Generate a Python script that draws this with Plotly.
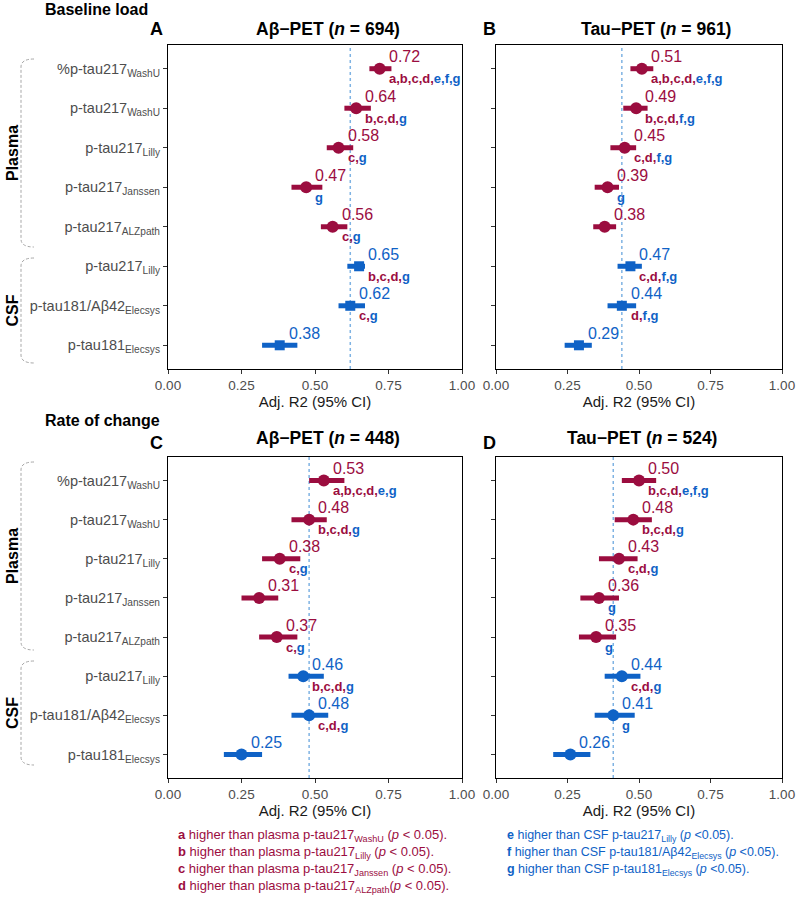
import plotly.graph_objects as go

# rows from top to bottom
biomarkers = ["%p-tau217<sub>WashU</sub>", "p-tau217<sub>WashU</sub>", "p-tau217<sub>Lilly</sub>",
              "p-tau217<sub>Janssen</sub>", "p-tau217<sub>ALZpath</sub>", "p-tau217<sub>Lilly</sub>",
              "p-tau181/Aβ42<sub>Elecsys</sub>", "p-tau181<sub>Elecsys</sub>"]
fluid = ["Plasma", "Plasma", "Plasma", "Plasma", "Plasma", "CSF", "CSF", "CSF"]

# A - baseline, Aβ-PET
est_a = [0.72, 0.64, 0.58, 0.47, 0.56, 0.65, 0.62, 0.38]
lo_a = [0.685, 0.60, 0.54, 0.42, 0.52, 0.61, 0.58, 0.32]
hi_a = [0.76, 0.69, 0.63, 0.525, 0.61, 0.67, 0.67, 0.44]
sig_a = ["a,b,c,d,e,f,g", "b,c,d,g", "c,g", "g", "c,g", "b,c,d,g", "c,g", ""]

# B - baseline, Tau-PET
est_b = [0.51, 0.49, 0.45, 0.39, 0.38, 0.47, 0.44, 0.29]
lo_b = [0.47, 0.445, 0.40, 0.345, 0.34, 0.425, 0.39, 0.24]
hi_b = [0.55, 0.53, 0.49, 0.43, 0.42, 0.51, 0.49, 0.335]
sig_b = ["a,b,c,d,e,f,g", "b,c,d,f,g", "c,d,f,g", "g", "", "c,d,f,g", "d,f,g", ""]

# C - rate of change, Aβ-PET
est_c = [0.53, 0.48, 0.38, 0.31, 0.37, 0.46, 0.48, 0.25]
lo_c = [0.48, 0.42, 0.32, 0.25, 0.31, 0.41, 0.42, 0.19]
hi_c = [0.60, 0.54, 0.45, 0.375, 0.44, 0.53, 0.545, 0.32]
sig_c = ["a,b,c,d,e,g", "b,c,d,g", "c,g", "", "c,g", "b,c,d,g", "c,d,g", ""]

# D - rate of change, Tau-PET
est_d = [0.50, 0.48, 0.43, 0.36, 0.35, 0.44, 0.41, 0.26]
lo_d = [0.44, 0.415, 0.36, 0.295, 0.29, 0.38, 0.345, 0.20]
hi_d = [0.56, 0.545, 0.495, 0.43, 0.42, 0.505, 0.485, 0.33]
sig_d = ["b,c,d,e,f,g", "b,c,d,g", "c,d,g", "g", "g", "c,d,g", "g", ""]

xticks = [0, 0.25, 0.5, 0.75, 1.0]
xticklabels = ["0.00", "0.25", "0.50", "0.75", "1.00"]

notes_plasma = ["higher than plasma p-tau217<sub>WashU</sub> (<i>p</i> &lt; 0.05).",
                "higher than plasma p-tau217<sub>Lilly</sub> (<i>p</i> &lt; 0.05).",
                "higher than plasma p-tau217<sub>Janssen</sub> (<i>p</i> &lt; 0.05).",
                "higher than plasma p-tau217<sub>ALZpath</sub>(<i>p</i> &lt; 0.05)."]
notes_csf = ["higher than CSF p-tau217<sub>Lilly</sub> (<i>p</i> &lt;0.05).",
             "higher than CSF p-tau181/Aβ42<sub>Elecsys</sub> (<i>p</i> &lt;0.05).",
             "higher than CSF p-tau181<sub>Elecsys</sub> (<i>p</i> &lt;0.05)."]

RED = "#9B0D3F"
BLUE = "#0F62C6"
W, H = 797, 900
FONT = "Liberation Sans, Arial, sans-serif"


def px(x):
    return x / W


def py(y):
    return 1 - y / H


rows = list(range(1, 9))
panels = [
    dict(n="", est=est_a, lo=lo_a, hi=hi_a, sig=sig_a, sq=True, dx=[168, 462], dy=[45, 369]),
    dict(n="2", est=est_b, lo=lo_b, hi=hi_b, sig=sig_b, sq=True, dx=[496, 782], dy=[45, 369]),
    dict(n="3", est=est_c, lo=lo_c, hi=hi_c, sig=sig_c, sq=False, dx=[168, 462], dy=[457, 778]),
    dict(n="4", est=est_d, lo=lo_d, hi=hi_d, sig=sig_d, sq=False, dx=[496, 782], dy=[457, 778]),
]

fig = go.Figure()
anns = []
shapes = []

for k, p in enumerate(panels):
    xr, yr = "x" + p["n"], "y" + p["n"]
    for grp, col in [("Plasma", RED), ("CSF", BLUE)]:
        idx = [i for i in range(8) if fluid[i] == grp]
        sym = "square" if (grp == "CSF" and p["sq"]) else "circle"
        fig.add_trace(go.Scatter(
            x=[p["est"][i] for i in idx], y=[rows[i] for i in idx],
            xaxis=xr, yaxis=yr, mode="markers",
            marker=dict(color=col, size=10 if sym == "square" else 12, symbol=sym),
            error_x=dict(type="data", symmetric=False,
                         array=[p["hi"][i] - p["est"][i] for i in idx],
                         arrayminus=[p["est"][i] - p["lo"][i] for i in idx],
                         thickness=5, width=0, color=col),
            showlegend=False, hoverinfo="skip"))
    for i in range(8):
        col = RED if fluid[i] == "Plasma" else BLUE
        anns.append(dict(x=p["est"][i], y=rows[i], xref=xr, yref=yr, text="%.2f" % p["est"][i],
                         showarrow=False, xanchor="left", yanchor="middle", xshift=7, yshift=12,
                         font=dict(size=16, color=col)))
        if p["sig"][i]:
            letters = p["sig"][i].split(",")
            parts = []
            for j, l in enumerate(letters):
                c = RED if l in "abcd" else BLUE
                parts.append('<span style="color:%s">%s%s</span>' % (c, l, "," if j < len(letters) - 1 else ""))
            anns.append(dict(x=p["est"][i], y=rows[i], xref=xr, yref=yr, text="<b>" + "".join(parts) + "</b>",
                             showarrow=False, xanchor="left", yanchor="middle", xshift=7, yshift=-10,
                             font=dict(size=13)))
    # dotted reference line at CSF p-tau181/Aβ42
    shapes.append(dict(type="line", xref=xr, yref=yr + " domain", x0=p["est"][6], x1=p["est"][6], y0=0, y1=1,
                       layer="below", line=dict(color="#7FB3E3", width=1.5, dash="dot")))

    xa = dict(domain=[px(p["dx"][0]), px(p["dx"][1])], anchor=yr, range=[0, 1], automargin=False,
              tickvals=xticks, ticktext=xticklabels, ticks="outside", ticklen=4, tickcolor="#333",
              ticklabeloverflow="allow",
              showline=True, linecolor="black", linewidth=1.2, mirror=True, showgrid=False, zeroline=False,
              tickfont=dict(size=13.5, color="#4D4D4D"),
              title=dict(text="Adj. R2 (95% CI)", font=dict(size=15, color="#1A1A1A"), standoff=4))
    ya = dict(domain=[py(p["dy"][1]), py(p["dy"][0])], anchor=xr, range=[8.6, 0.4], automargin=False,
              tickvals=rows, ticktext=biomarkers, showticklabels=p["n"] in ("", "3"),
              ticks="outside", ticklen=4, tickcolor="#333",
              showline=True, linecolor="black", linewidth=1.2, mirror=True, showgrid=False, zeroline=False,
              tickfont=dict(size=14.5, color="#4D4D4D"))
    fig.layout["xaxis" + p["n"]] = xa
    fig.layout["yaxis" + p["n"]] = ya

# headings
heads = [("Baseline load", 43, 10, "left", 16), ("Rate of change", 43, 420, "left", 16),
         ("A", 156, 29, "center", 18), ("B", 490, 29, "center", 18),
         ("C", 156, 443, "center", 18), ("D", 490, 443, "center", 18),
         ("Aβ−PET (<i>n</i> = 694)", 328, 29, "center", 17.5), ("Tau−PET (<i>n</i> = 961)", 656, 29, "center", 17.5),
         ("Aβ−PET (<i>n</i> = 448)", 328, 438, "center", 17.5), ("Tau−PET (<i>n</i> = 524)", 642, 438, "center", 17.5)]
for t, x, y, xa_, s in heads:
    anns.append(dict(text="<b>" + t + "</b>", x=px(x), y=py(y), xref="paper", yref="paper", showarrow=False,
                     xanchor=xa_, yanchor="middle", font=dict(size=s, color="black")))

# group brackets and labels
for name, top, bot in [("Plasma", 59, 247), ("CSF", 258, 363), ("Plasma", 462, 650), ("CSF", 661, 765)]:
    path = "M %f,%f Q %f,%f %f,%f L %f,%f Q %f,%f %f,%f" % (
        px(34), py(top), px(21), py(top), px(21), py(top + 8),
        px(21), py(bot - 8), px(21), py(bot), px(34), py(bot))
    shapes.append(dict(type="path", xref="paper", yref="paper", path=path,
                       line=dict(color="#A8A8A8", width=1, dash="3px,2px")))
    anns.append(dict(text="<b>" + name + "</b>", x=px(12), y=py((top + bot) / 2), xref="paper", yref="paper",
                     showarrow=False, textangle=-90, xanchor="center", yanchor="middle",
                     font=dict(size=16, color="black")))

# footnotes
for j, t in enumerate(notes_plasma):
    anns.append(dict(text="<b>" + "abcd"[j] + "</b> " + t, x=px(176), y=py(835 + 17 * j), xref="paper",
                     yref="paper", showarrow=False, xanchor="left", yanchor="middle",
                     font=dict(size=13, color=RED)))
for j, t in enumerate(notes_csf):
    anns.append(dict(text="<b>" + "efg"[j] + "</b> " + t, x=px(505), y=py(836 + 17 * j), xref="paper",
                     yref="paper", showarrow=False, xanchor="left", yanchor="middle",
                     font=dict(size=12.5, color=BLUE)))

fig.update_layout(width=W, height=H, margin=dict(l=0, r=0, t=0, b=0, autoexpand=False),
                  paper_bgcolor="white", plot_bgcolor="white",
                  font=dict(family=FONT, color="black"),
                  annotations=anns, shapes=shapes)
# drop the page's default 8px body margin so the figure fills the window
fig.write_html("out.html", config={"displayModeBar": False},
               post_script="document.body.style.margin='0';")
